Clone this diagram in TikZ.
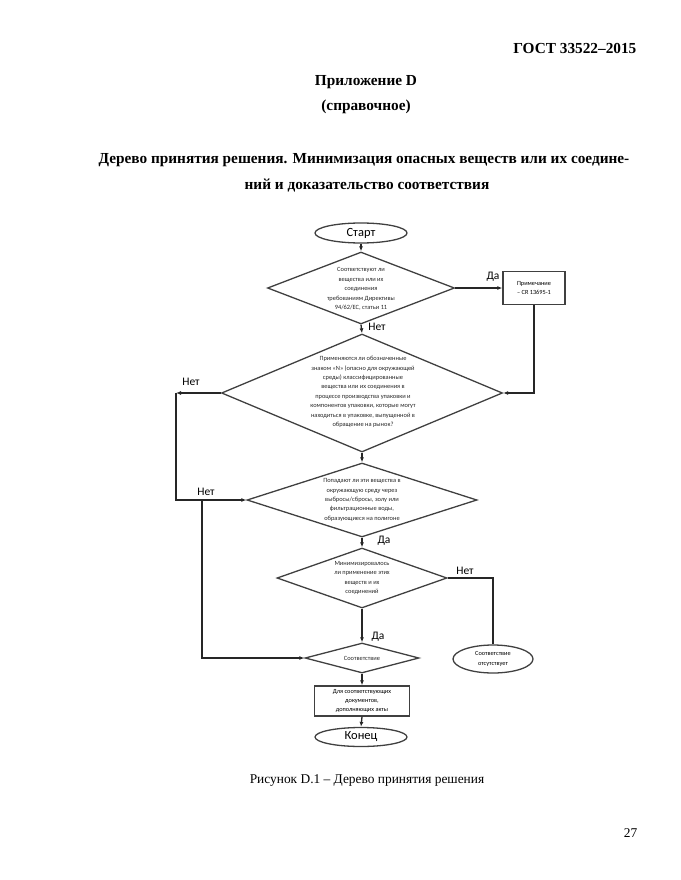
\documentclass[tikz,border=0pt]{standalone}
\usepackage{fontspec}
\setmainfont{Liberation Serif}
\newfontfamily\diafont{Carlito}
\usetikzlibrary{shapes.geometric,arrows.meta}
\begin{document}
\begin{tikzpicture}[x=1pt,y=-1pt,
  line width=1.3pt,
  ln/.style={draw=black!85},
  arr/.style={ln,-{Latex[length=5pt,width=4pt]}},
  dia/.style={draw=black!75,diamond,inner sep=0pt,aspect=2},
  term/.style={draw=black!75,ellipse,inner sep=0pt,font=\diafont\fontsize{12.5}{14}\selectfont},
  boxx/.style={draw=black!75,rectangle,inner sep=0pt,align=center,font=\diafont\fontsize{6.3}{9.3}\selectfont},
  small/.style={align=center,inner sep=0pt,font=\diafont\fontsize{6.4}{9.4}\selectfont,text=black!85},
  lab/.style={inner sep=0pt,font=\diafont\fontsize{11.5}{13}\selectfont},
  head/.style={inner sep=0pt,font=\fontsize{15.3}{18}\selectfont\bfseries}
]
\useasboundingbox (0,0) rectangle (680,880);
% header texts
\node[head,anchor=east] (gost) at (637,48) {ГОСТ 33522–2015};
\node[head] (app) at (366,82) {Приложение D};
\node[head] (ref) at (366,107) {(справочное)};
\node[head] (tit1) at (364,160) {Дерево принятия решения. Минимизация опасных веществ или их соедине-};
\node[head] (tit2) at (367,186) {ний и доказательство соответствия};
\node[inner sep=0pt,font=\fontsize{13.4}{16}\selectfont] (cap) at (367,781) {Рисунок D.1 – Дерево принятия решения};
\node[inner sep=0pt,font=\fontsize{13.4}{16}\selectfont,anchor=east] (pg) at (638,833) {27};

% flowchart nodes
\node[term,minimum width=92pt,minimum height=20pt] (start) at (361,233) {Старт};
\node[dia,minimum width=187pt,minimum height=72pt] (d1) at (361,288) {};
\node[small] (t1) at (361,289) {Соответствуют ли\\вещества или их\\соединения\\требованиям Директивы\\94/62/ЕС, статьи 11};
\node[boxx,minimum width=62pt,minimum height=33pt] (note) at (534,288) {Примечание\\– CR 13695-1};
\node[dia,minimum width=281pt,minimum height=118pt] (d2) at (362,393) {};
\node[small] (t2) at (363,392) {Применяются ли обозначенные\\знаком «N» (опасно для окружающей\\среды) классифицированные\\вещества или их соединения в\\процессе производства упаковки и\\компонентов упаковки, которые могут\\находиться в упаковке, выпущенной в\\обращение на рынок?};
\node[dia,minimum width=230pt,minimum height=74pt] (d3) at (362,500) {};
\node[small] (t3) at (362,500) {Попадают ли эти вещества в\\окружающую среду через\\выбросы/сбросы, золу или\\фильтрационные воды,\\образующиеся на полигоне};
\node[dia,minimum width=170pt,minimum height=60pt] (d4) at (362,578) {};
\node[small] (t4) at (362,578) {Минимизировалось\\ли применение этих\\веществ и их\\соединений};
\node[term,minimum width=80pt,minimum height=28pt,font=\diafont\fontsize{6.3}{9.3}\selectfont,align=center] (noconf) at (493,659) {Соответствие\\отсутствует};
\node[dia,minimum width=114pt,minimum height=30pt] (d5) at (362,658) {};
\node[small] (t5) at (362,658) {Соответствие};
\node[boxx,minimum width=95pt,minimum height=30pt] (doc) at (362,701) {Для соответствующих\\документов,\\дополняющих акты};
\node[term,minimum width=92pt,minimum height=19pt] (end) at (361,737) {Конец};

% coordinates
\coordinate (c1) at (176,393);
\coordinate (c2) at (176,500);
\coordinate (c3) at (202,500);

% connectors
\draw[arr] (start) -- (d1);
\draw[arr] (d1.east) -- (note.west);
\draw[arr] (note.south) |- (d2.east);
\draw[arr] (d1.south) -- (d2.north);
\draw[arr] (d2.south) -- (d3.north);
\draw[arr] (d2.west) -- (c1);
\draw[arr] (c1) -- (c2) -- (d3.west);
\draw[arr] (c3) |- (d5.west);
\draw[arr] (d3.south) -- (d4.north);
\draw[ln] (d4.east) -| (noconf.north);
\draw[arr] (d4.south) -- (d5.north);
\draw[arr] (d5.south) -- (doc.north);
\draw[arr] (doc.south) -- (end.north);

% labels
\node[lab] (l1) at (493,277) {Да};
\node[lab] (l2) at (377,327) {Нет};
\node[lab] (l3) at (191,382) {Нет};
\node[lab] (l4) at (206,492) {Нет};
\node[lab] (l5) at (384,541) {Да};
\node[lab] (l6) at (465,571) {Нет};
\node[lab] (l7) at (378,637) {Да};
\end{tikzpicture}
\end{document}
